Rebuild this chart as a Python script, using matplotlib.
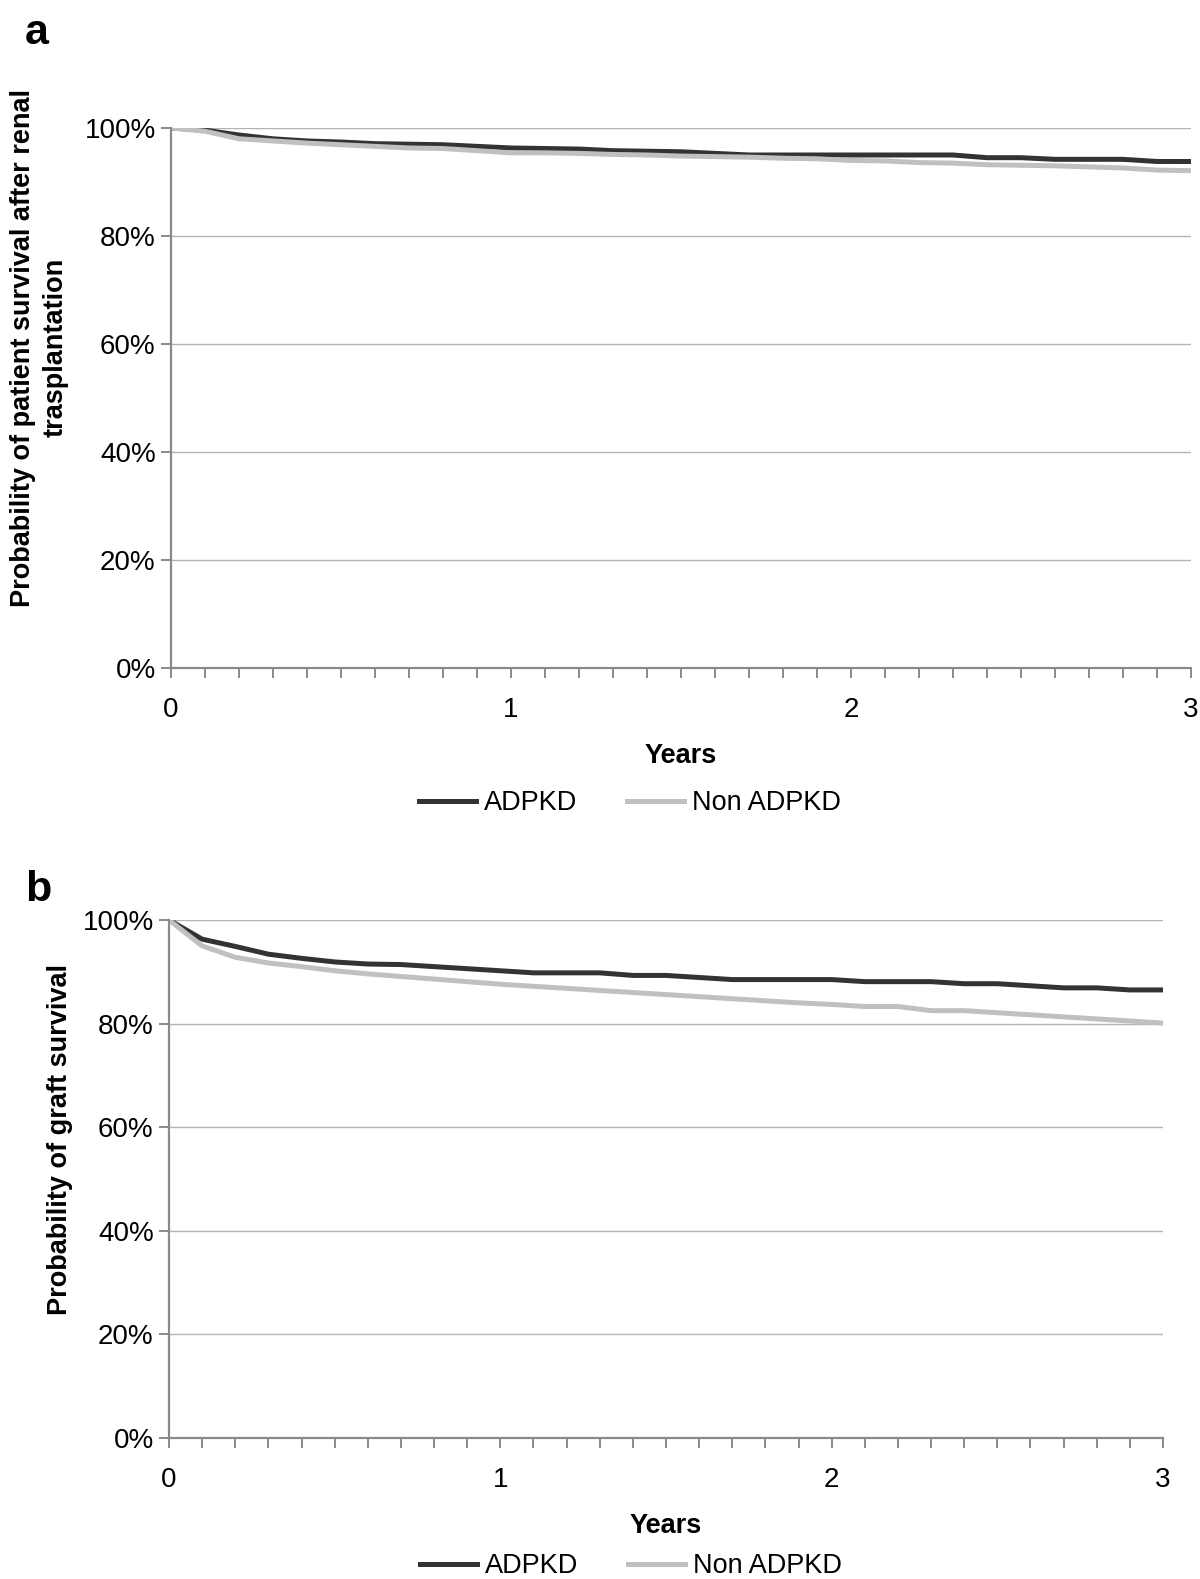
import numpy as np
import matplotlib.pyplot as plt
from matplotlib.ticker import MultipleLocator, PercentFormatter

plt.rcParams['font.family'] = ['Liberation Sans', 'DejaVu Sans']

# Anos (a cada 0.1)
years = np.round(np.arange(0, 3.01, 0.1), 1)

# Painel a: sobrevida do paciente (%)
patient_adpkd = [100, 99.6, 98.7, 98.0, 97.6, 97.4, 97.1, 97.0, 96.9, 96.6, 96.3,
                 96.2, 96.1, 95.8, 95.7, 95.6, 95.3, 95.0, 95.0, 95.0, 95.0,
                 95.0, 95.0, 95.0, 94.5, 94.5, 94.2, 94.2, 94.2, 93.8, 93.8]
patient_non = [100, 99.4, 98.0, 97.6, 97.2, 96.9, 96.6, 96.3, 96.2, 95.8, 95.4,
               95.4, 95.3, 95.1, 95.0, 94.8, 94.7, 94.6, 94.4, 94.3, 94.0,
               93.9, 93.6, 93.5, 93.2, 93.1, 93.0, 92.8, 92.6, 92.2, 92.1]

# Painel b: sobrevida do enxerto (%)
graft_adpkd = [100, 96.3, 94.9, 93.4, 92.6, 91.9, 91.5, 91.4, 91.0, 90.6, 90.2,
               89.8, 89.8, 89.8, 89.3, 89.3, 88.9, 88.5, 88.5, 88.5, 88.5,
               88.1, 88.1, 88.1, 87.7, 87.7, 87.3, 86.9, 86.9, 86.5, 86.5]
graft_non = [100, 95.0, 92.8, 91.7, 91.0, 90.2, 89.6, 89.1, 88.6, 88.1, 87.6,
             87.2, 86.8, 86.4, 86.0, 85.6, 85.2, 84.8, 84.4, 84.0, 83.7,
             83.3, 83.3, 82.5, 82.5, 82.1, 81.7, 81.3, 80.9, 80.5, 80.1]

series_labels = ["ADPKD", "Non ADPKD"]
cor_escura = "#333333"
cor_clara = "#c0c0c0"

fig = plt.figure(figsize=(12, 15.79), dpi=100)

W, H = 1200, 1579


def box(x0, x1, ytop, ybot):
    return [x0 / W, 1 - ybot / H, (x1 - x0) / W, (ybot - ytop) / H]


ax_a = fig.add_axes(box(171, 1191, 128, 668))
ax_b = fig.add_axes(box(169, 1163, 920, 1438))


def estilo(ax, ylabel):
    ax.set_xlim(0, 3)
    ax.set_ylim(0, 100)
    ax.spines["top"].set_visible(False)
    ax.spines["right"].set_visible(False)
    for s in ("left", "bottom"):
        ax.spines[s].set_color("#8a8a8a")
        ax.spines[s].set_linewidth(1.6)
    ax.yaxis.set_major_locator(MultipleLocator(20))
    ax.yaxis.set_major_formatter(PercentFormatter(decimals=0))
    ax.xaxis.set_major_locator(MultipleLocator(1))
    ax.xaxis.set_minor_locator(MultipleLocator(0.1))
    ax.grid(True, axis="y", color="#b4b4b4", linewidth=1.0)
    ax.set_axisbelow(True)
    ax.tick_params(axis="x", which="both", direction="out", length=7,
                   width=1.4, color="#8a8a8a", pad=14, labelsize=20)
    ax.tick_params(axis="y", which="major", direction="out", length=7,
                   width=1.4, color="#8a8a8a", pad=4, labelsize=20)
    ax.set_xlabel("Years", fontsize=19.5, fontweight="bold", labelpad=14)
    ax.set_ylabel(ylabel, fontsize=19.5, fontweight="bold", linespacing=1.35)


ax_a.plot(years, patient_adpkd, color=cor_escura, linewidth=3.6, label=series_labels[0])
ax_a.plot(years, patient_non, color=cor_clara, linewidth=3.6, label=series_labels[1])
estilo(ax_a, "Probability of patient survival after renal\ntrasplantation")
ax_a.yaxis.set_label_coords(-0.100, 0.593)

ax_b.plot(years, graft_adpkd, color=cor_escura, linewidth=3.6, label=series_labels[0])
ax_b.plot(years, graft_non, color=cor_clara, linewidth=3.6, label=series_labels[1])
estilo(ax_b, "Probability of graft survival")
ax_b.yaxis.set_label_coords(-0.097, 0.577)

# Legendas abaixo de cada painel
for ax, xc, yc in [(ax_a, 630, 803), (ax_b, 631, 1566)]:
    h, l = ax.get_legend_handles_labels()
    fig.legend(h, l, loc="center", bbox_to_anchor=(xc / W, 1 - yc / H), ncol=2,
               frameon=False, fontsize=19.5, handlelength=2.1, columnspacing=1.85,
               handletextpad=0.3, borderpad=0, borderaxespad=0)

# Letras dos painéis
fig.text(25 / W, 1 - 33 / H, "a", fontsize=31, fontweight="bold", va="center")
fig.text(25 / W, 1 - 890 / H, "b", fontsize=31, fontweight="bold", va="center")

fig.savefig("out.png", dpi=100)
